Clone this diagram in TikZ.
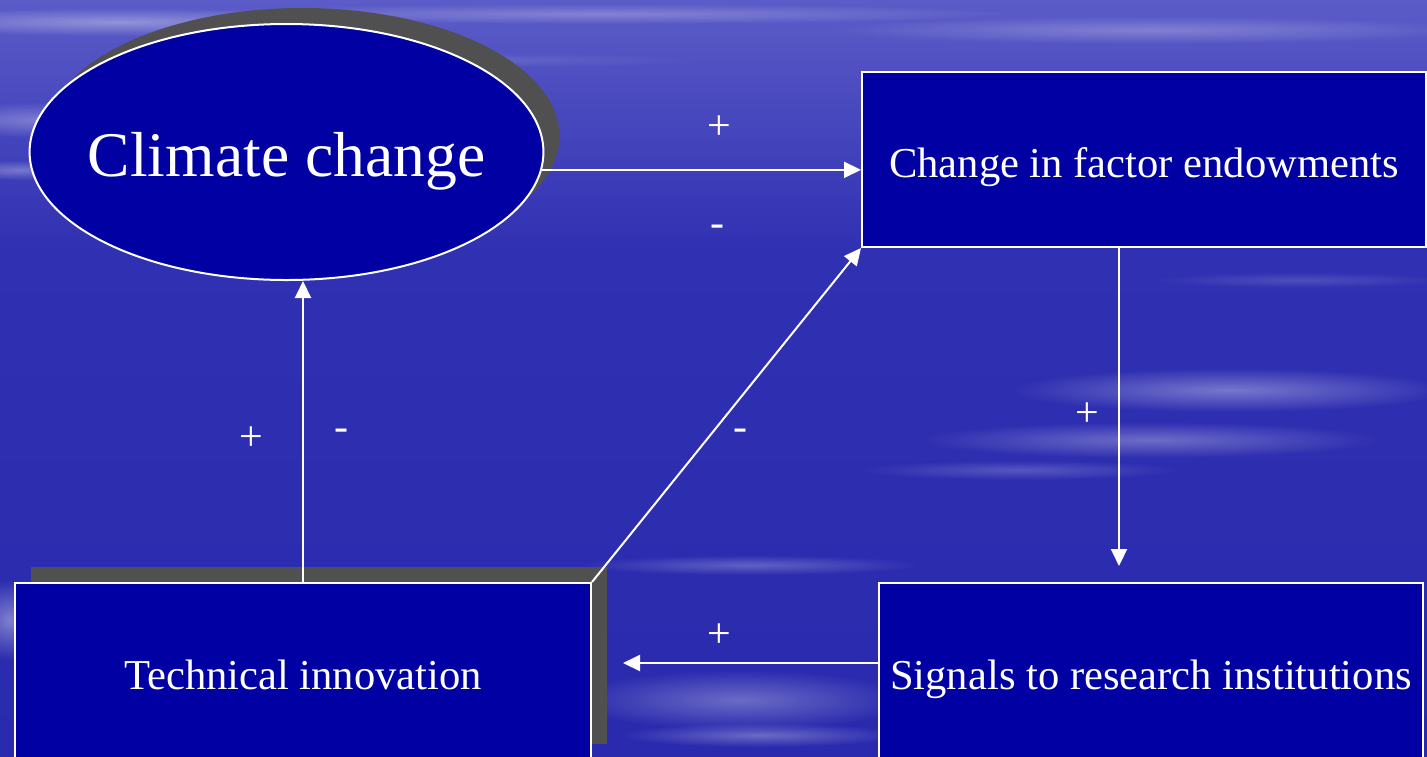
\documentclass[tikz,border=0pt]{standalone}
\usepackage{fontspec}
\setmainfont{Liberation Serif}
\usetikzlibrary{shapes.geometric, shadows, arrows.meta, fadings}

\definecolor{skytop}{RGB}{92,92,200}
\definecolor{skymid}{RGB}{48,48,178}
\definecolor{skylow}{RGB}{42,42,174}
\definecolor{boxblue}{RGB}{0,0,163}
\definecolor{shadowgray}{RGB}{80,80,80}

\tikzfading[name=softedge, inner color=transparent!0, outer color=transparent!100]

\tikzset{
  block/.style={draw=white, line width=1pt, fill=boxblue, text=white, inner sep=0pt,
    text height=17.5pt, text depth=0pt, font=\fontsize{21.3}{26}\selectfont},
  shadowed/.style={drop shadow={shadow xshift=8pt, shadow yshift=8pt, fill=shadowgray, opacity=1}},
  link/.style={draw=white, line width=1pt, -{Triangle[length=8.5pt, width=8pt]}},
  sign/.style={text=white, inner sep=0pt, font=\fontsize{21}{24}\selectfont},
  streak/.style={fill=white, path fading=softedge}
}

\begin{document}
\begin{tikzpicture}[x=0.5pt, y=-0.5pt]
  \clip (0,0) rectangle (1427,756);

  % Sky background
  \shade[top color=skytop, bottom color=skymid] (0,0) rectangle (1427,250);
  \shade[top color=skymid, bottom color=skylow] (0,250) rectangle (1427,756);
  \foreach \cx/\cy/\rx/\ry/\op in {
      120/22/260/14/0.35, 600/14/420/10/0.25, 1150/30/330/14/0.25,
      40/120/120/18/0.3, 20/170/80/10/0.3, 400/60/300/8/0.15,
      1230/390/220/22/0.35, 1150/440/230/18/0.3, 1020/470/160/10/0.2,
      750/565/170/10/0.25, 740/700/170/30/0.3, 760/735/140/12/0.3,
      10/620/40/40/0.4, 1300/280/150/8/0.15}
    \fill[streak, opacity=\op] (\cx,\cy) ellipse ({\rx} and {\ry});

  % Nodes
  \node[block, shadowed, ellipse, inner xsep=-8.5pt, minimum width=256.5pt, minimum height=128pt,
        text height=24pt, font=\fontsize{31.8}{38}\selectfont] (climate) at (286.5,152) {Climate change};
  \node[block, minimum width=282pt, minimum height=87.5pt] (endow) at (1144,159.5) {Change in factor endowments};
  \node[block, minimum width=272pt, minimum height=88.5pt] (signals) at (1151,671.5) {Signals to research institutions};
  \node[block, shadowed, minimum width=288pt, minimum height=88.5pt] (innov) at (303,671.5) {Technical innovation};

  % Arrow ends
  \coordinate (sigtip) at ([xshift=-16pt, yshift=8pt]signals.north);
  \coordinate (innovtip) at ([xshift=15.5pt, yshift=4.25pt]innov.east);

  % Connectors
  \draw[link] (climate.-4.8) -- (climate.-4.8 -| endow.west);
  \draw[link] (endow.south -| sigtip) -- (sigtip);
  \draw[link] (signals.west |- innovtip) -- (innovtip);
  \draw[link] (innov.north) -- (innov.north |- climate.south);
  \draw[link] (innov.north east) -- (endow.south west);

  % Signs
  \node[sign] (plusA) at (719,128) {+};
  \node[sign] (minusA) at (717,231) {-};
  \node[sign] (plusB) at (1087,415) {+};
  \node[sign] (plusC) at (719,636) {+};
  \node[sign] (plusD) at (251,439) {+};
  \node[sign] (minusD) at (341,435) {-};
  \node[sign] (minusE) at (740,435) {-};
\end{tikzpicture}
\end{document}
